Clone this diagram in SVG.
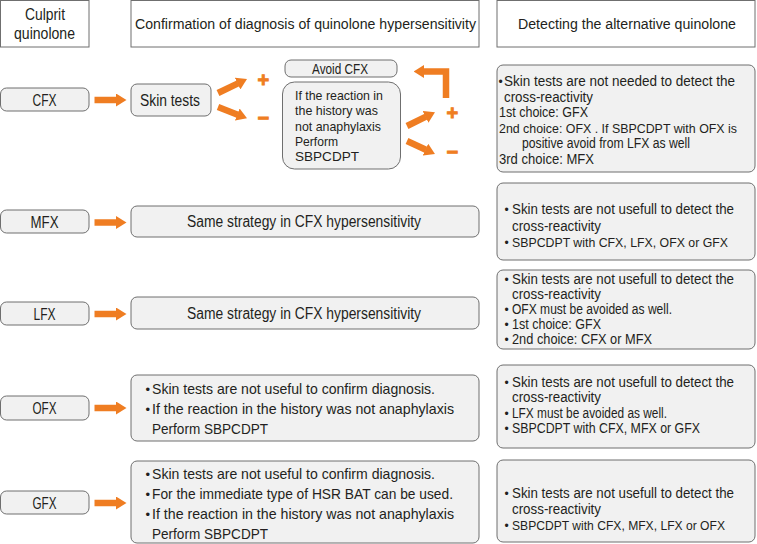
<svg xmlns="http://www.w3.org/2000/svg" width="757" height="544" viewBox="0 0 757 544">
<style>
.hdr{fill:#ffffff;stroke:#6f6f6f;stroke-width:1}
.box{fill:#f1f1f1;stroke:#6f6f6f;stroke-width:1}
text{font-family:"Liberation Sans",Arial,sans-serif;fill:#231f20}
.hc{font-size:17px}
.h{font-size:15.4px}
.n{font-size:16px}
.b{font-size:14.8px}
.s{font-size:13.5px}
.s15{font-size:15px}
.r{font-size:14px}
.r13{font-size:13px}
.bl{font-size:13px}
.br{font-size:12px}
.arr{stroke:#ef7d22;stroke-width:6.5;fill:none;stroke-linejoin:miter;marker-end:url(#ah)}
.pm{fill:#ef7d22;stroke:#ef7d22;stroke-width:0.9;font-weight:bold;font-size:20px;text-anchor:middle}
</style>
<defs>
<marker id="ah" markerUnits="userSpaceOnUse" markerWidth="10.5" markerHeight="13" viewBox="0 0 10.5 13" refX="0.5" refY="6.5" orient="auto" preserveAspectRatio="none">
<path d="M0,0 L10.5,6.5 L0,13 z" fill="#ef7d22"/>
</marker>
</defs>
<rect width="757" height="544" fill="#ffffff"/>

<g id="hdr-culprit">
<rect class="hdr" x="0.5" y="0.5" width="88.5" height="46.5"/>
<text class="hc" x="25" y="20" textLength="40" lengthAdjust="spacingAndGlyphs">Culprit</text>
<text class="hc" x="14" y="38.5" textLength="61" lengthAdjust="spacingAndGlyphs">quinolone</text>
</g>
<g id="hdr-confirm">
<rect class="hdr" x="131" y="0.5" width="348" height="46.5"/>
<text class="h" x="135" y="29" textLength="341" lengthAdjust="spacingAndGlyphs">Confirmation of diagnosis of quinolone hypersensitivity</text>
</g>
<g id="hdr-detect">
<rect class="hdr" x="497" y="0.5" width="258" height="46.5"/>
<text class="h" x="518" y="29" textLength="218" lengthAdjust="spacingAndGlyphs">Detecting the alternative quinolone</text>
</g>

<g id="cfx">
<rect class="box" x="0.5" y="88" width="88.5" height="23" rx="6"/>
<text class="n" x="32.5" y="105.5" textLength="24" lengthAdjust="spacingAndGlyphs">CFX</text>
</g>
<g id="skin-tests">
<rect class="box" x="131" y="84" width="80" height="32" rx="6"/>
<text class="n" x="140" y="106" textLength="60" lengthAdjust="spacingAndGlyphs">Skin tests</text>
</g>
<g id="avoid-cfx">
<rect class="box" x="285" y="60" width="112" height="17" rx="6"/>
<text class="s15" x="312" y="74" textLength="56" lengthAdjust="spacingAndGlyphs">Avoid CFX</text>
</g>
<g id="sbpcdpt-cfx">
<rect class="box" x="282.5" y="82" width="118" height="87" rx="12"/>
<text class="s" x="295" y="100" textLength="88" lengthAdjust="spacingAndGlyphs">If the reaction in</text>
<text class="s" x="295" y="115.3" textLength="83" lengthAdjust="spacingAndGlyphs">the history was</text>
<text class="s" x="295" y="130.6" textLength="86" lengthAdjust="spacingAndGlyphs">not anaphylaxis</text>
<text class="s" x="295" y="145.9" textLength="43" lengthAdjust="spacingAndGlyphs">Perform</text>
<text class="s" x="295" y="161" textLength="64" lengthAdjust="spacingAndGlyphs">SBPCDPT</text>
</g>
<g id="alt-cfx">
<rect class="box" x="497" y="65" width="258" height="107" rx="6"/>
<text class="br" x="498.5" y="86">•</text>
<text class="r" x="504" y="86" textLength="231" lengthAdjust="spacingAndGlyphs">Skin tests are not needed to detect the</text>
<text class="r" x="504" y="101.5" textLength="89" lengthAdjust="spacingAndGlyphs">cross-reactivity</text>
<text class="r" x="499" y="117" textLength="89" lengthAdjust="spacingAndGlyphs">1st choice: GFX</text>
<text class="r13" x="499" y="132.5" textLength="238" lengthAdjust="spacingAndGlyphs">2nd choice: OFX . If SBPCDPT with OFX is</text>
<text class="r" x="522" y="148" textLength="168" lengthAdjust="spacingAndGlyphs">positive avoid from LFX as well</text>
<text class="r" x="499" y="163.5" textLength="95" lengthAdjust="spacingAndGlyphs">3rd choice: MFX</text>
</g>

<g id="mfx">
<rect class="box" x="0.5" y="210" width="88.5" height="23" rx="6"/>
<text class="n" x="30.5" y="227.5" textLength="28" lengthAdjust="spacingAndGlyphs">MFX</text>
</g>
<g id="same-mfx">
<rect class="box" x="131" y="206" width="348" height="31" rx="6"/>
<text class="n" x="187" y="227" textLength="234" lengthAdjust="spacingAndGlyphs">Same strategy in CFX hypersensitivity</text>
</g>
<g id="alt-mfx">
<rect class="box" x="497" y="183" width="258" height="77" rx="6"/>
<text class="br" x="504.6" y="214.3">•</text>
<text class="r" x="512" y="214.3" textLength="222" lengthAdjust="spacingAndGlyphs">Skin tests are not usefull to detect the</text>
<text class="r" x="512" y="230.8" textLength="89" lengthAdjust="spacingAndGlyphs">cross-reactivity</text>
<text class="br" x="504.6" y="247.3">•</text>
<text class="r13" x="512" y="247.3" textLength="216" lengthAdjust="spacingAndGlyphs">SBPCDPT with CFX, LFX, OFX or GFX</text>
</g>

<g id="lfx">
<rect class="box" x="0.5" y="302" width="88.5" height="23" rx="6"/>
<text class="n" x="33.5" y="319.5" textLength="22" lengthAdjust="spacingAndGlyphs">LFX</text>
</g>
<g id="same-lfx">
<rect class="box" x="131" y="297" width="348" height="32" rx="6"/>
<text class="n" x="187" y="318.5" textLength="234" lengthAdjust="spacingAndGlyphs">Same strategy in CFX hypersensitivity</text>
</g>
<g id="alt-lfx">
<rect class="box" x="497" y="270" width="258" height="79" rx="6"/>
<text class="br" x="504.6" y="284">•</text>
<text class="r" x="512" y="284" textLength="222" lengthAdjust="spacingAndGlyphs">Skin tests are not usefull to detect the</text>
<text class="r" x="512" y="299" textLength="89" lengthAdjust="spacingAndGlyphs">cross-reactivity</text>
<text class="br" x="504.6" y="314">•</text>
<text class="r" x="512" y="314" textLength="160" lengthAdjust="spacingAndGlyphs">OFX must be avoided as well.</text>
<text class="br" x="504.6" y="329">•</text>
<text class="r" x="512" y="329" textLength="89" lengthAdjust="spacingAndGlyphs">1st choice: GFX</text>
<text class="br" x="504.6" y="344">•</text>
<text class="r" x="512" y="344" textLength="140" lengthAdjust="spacingAndGlyphs">2nd choice: CFX or MFX</text>
</g>

<g id="ofx">
<rect class="box" x="0.5" y="396" width="88.5" height="24" rx="6"/>
<text class="n" x="32.5" y="413.5" textLength="24" lengthAdjust="spacingAndGlyphs">OFX</text>
</g>
<g id="confirm-ofx">
<rect class="box" x="131" y="375" width="348" height="66" rx="6"/>
<text class="bl" x="145.5" y="394">•</text>
<text class="b" x="152" y="394" textLength="283" lengthAdjust="spacingAndGlyphs">Skin tests are not useful to confirm diagnosis.</text>
<text class="bl" x="145.5" y="414">•</text>
<text class="b" x="152" y="414" textLength="302" lengthAdjust="spacingAndGlyphs">If the reaction in the history was not anaphylaxis</text>
<text class="b" x="152" y="434" textLength="116" lengthAdjust="spacingAndGlyphs">Perform SBPCDPT</text>
</g>
<g id="alt-ofx">
<rect class="box" x="497" y="365" width="258" height="83" rx="6"/>
<text class="br" x="504.6" y="386.7">•</text>
<text class="r" x="512" y="386.7" textLength="222" lengthAdjust="spacingAndGlyphs">Skin tests are not usefull to detect the</text>
<text class="r" x="512" y="402.2" textLength="89" lengthAdjust="spacingAndGlyphs">cross-reactivity</text>
<text class="br" x="504.6" y="417.8">•</text>
<text class="r" x="512" y="417.8" textLength="155" lengthAdjust="spacingAndGlyphs">LFX must be avoided as well.</text>
<text class="br" x="504.6" y="433.3">•</text>
<text class="r" x="512" y="433.3" textLength="188" lengthAdjust="spacingAndGlyphs">SBPCDPT with CFX, MFX or GFX</text>
</g>

<g id="gfx">
<rect class="box" x="0.5" y="491" width="88.5" height="23" rx="6"/>
<text class="n" x="32.5" y="508.5" textLength="24" lengthAdjust="spacingAndGlyphs">GFX</text>
</g>
<g id="confirm-gfx">
<rect class="box" x="131" y="461" width="348" height="82" rx="6"/>
<text class="bl" x="145.5" y="479">•</text>
<text class="b" x="152" y="479" textLength="283" lengthAdjust="spacingAndGlyphs">Skin tests are not useful to confirm diagnosis.</text>
<text class="bl" x="145.5" y="499">•</text>
<text class="b" x="152" y="499" textLength="301" lengthAdjust="spacingAndGlyphs">For the immediate type of HSR BAT can be used.</text>
<text class="bl" x="145.5" y="518.5">•</text>
<text class="b" x="152" y="518.5" textLength="302" lengthAdjust="spacingAndGlyphs">If the reaction in the history was not anaphylaxis</text>
<text class="b" x="152" y="538.5" textLength="116" lengthAdjust="spacingAndGlyphs">Perform SBPCDPT</text>
</g>
<g id="alt-gfx">
<rect class="box" x="497" y="460" width="258" height="82" rx="6"/>
<text class="br" x="504.6" y="498.3">•</text>
<text class="r" x="512" y="498.3" textLength="222" lengthAdjust="spacingAndGlyphs">Skin tests are not usefull to detect the</text>
<text class="r" x="512" y="514.2" textLength="89" lengthAdjust="spacingAndGlyphs">cross-reactivity</text>
<text class="br" x="504.6" y="530">•</text>
<text class="r13" x="512" y="530" textLength="213" lengthAdjust="spacingAndGlyphs">SBPCDPT with CFX, MFX, LFX or OFX</text>
</g>

<g id="connectors">
<line class="arr" x1="94.5" y1="100" x2="116.5" y2="100"/>
<line class="arr" x1="94.5" y1="222.5" x2="116.5" y2="222.5"/>
<line class="arr" x1="94.5" y1="314" x2="116.5" y2="314"/>
<line class="arr" x1="94.5" y1="408" x2="116.5" y2="408"/>
<line class="arr" x1="94.5" y1="503" x2="116.5" y2="503"/>
<line class="arr" x1="218" y1="93" x2="238" y2="83.4"/>
<line class="arr" x1="218" y1="107" x2="237.7" y2="114.7"/>
<line class="arr" x1="407" y1="126" x2="426" y2="116.7"/>
<line class="arr" x1="407" y1="141" x2="425.9" y2="149.8"/>
<polyline class="arr" points="446,98 446,71.5 423.5,71.5"/>
<text class="pm" x="263.3" y="86.8">+</text>
<text class="pm" x="263.3" y="125">−</text>
<text class="pm" x="452.3" y="120">+</text>
<text class="pm" x="452.3" y="158.5">−</text>
</g>
</svg>
